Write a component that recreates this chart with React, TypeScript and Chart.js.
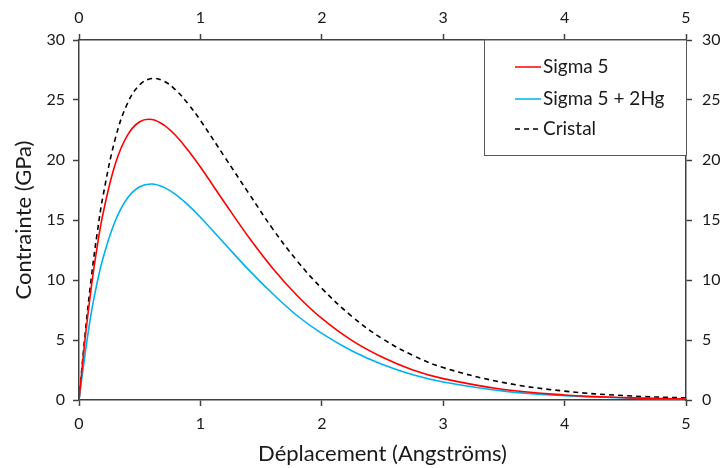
import React, { useEffect, useRef } from "react";
import { Chart, registerables } from "chart.js";

Chart.register(...registerables);

const displacement = [0, 0.05, 0.1, 0.15, 0.2, 0.3, 0.4, 0.5, 0.6, 0.7, 0.8, 0.9, 1.0, 1.2, 1.4, 1.6, 1.8, 2.0, 2.25, 2.5, 2.75, 3.0, 3.5, 4.0, 4.5, 5.0];
const sigma5 = [0, 5.08, 9.31, 12.8, 15.64, 19.71, 22.08, 23.19, 23.38, 22.91, 22.0, 20.79, 19.41, 16.44, 13.54, 10.92, 8.67, 6.8, 4.95, 3.56, 2.5, 1.78, 0.87, 0.42, 0.2, 0.09];
const sigma5Hg = [0, 3.81, 7.2, 9.8, 11.9, 14.96, 16.84, 17.77, 18.0, 17.72, 17.1, 16.24, 15.23, 13.02, 10.82, 8.81, 7.0, 5.55, 4.08, 2.95, 2.1, 1.5, 0.74, 0.36, 0.17, 0.08];
const cristal = [0, 5.46, 10.07, 13.92, 17.11, 21.82, 24.73, 26.27, 26.79, 26.57, 25.8, 24.67, 23.3, 20.25, 17.2, 14.2, 11.55, 9.3, 6.95, 5.1, 3.72, 2.7, 1.45, 0.74, 0.36, 0.17];
const seriesNames = ["Sigma 5", "Sigma 5 + 2Hg", "Cristal"];
const xTicks = [0, 1, 2, 3, 4, 5];
const yTicks = [0, 5, 10, 15, 20, 25, 30];
const xTitle = "Déplacement (Angströms)";
const yTitle = "Contrainte (GPa)";

const FONT = "Lato, 'Open Sans', sans-serif";
const AXIS_COLOR = "#404040";
const TEXT_COLOR = "#1a1a1a";

const legendBoxPlugin = {
  id: "legendBox",
  afterDraw(chart: any) {
    const { ctx, chartArea } = chart;
    const left = chartArea.left + 405;
    const top = chartArea.top;
    const right = chartArea.right;
    const bottom = chartArea.top + 115;
    ctx.save();
    ctx.fillStyle = "#ffffff";
    ctx.fillRect(left, top, right - left, bottom - top);
    ctx.strokeStyle = "#595959";
    ctx.lineWidth = 1;
    ctx.strokeRect(left + 0.5, top, right - left, bottom - top + 0.5);
    const rows = [27, 59, 89];
    chart.data.datasets.forEach((ds: any, i: number) => {
      const y = top + rows[i];
      ctx.beginPath();
      ctx.strokeStyle = ds.borderColor;
      ctx.lineWidth = 1.5;
      ctx.setLineDash(ds.borderDash || []);
      ctx.moveTo(left + 31, y);
      ctx.lineTo(left + 57, y);
      ctx.stroke();
      ctx.setLineDash([]);
      ctx.fillStyle = TEXT_COLOR;
      ctx.font = `19px ${FONT}`;
      ctx.textBaseline = "middle";
      ctx.textAlign = "left";
      ctx.fillText(ds.label, left + 59, y);
    });
    ctx.restore();
  },
};

const frameScale = (position: string, size: number) => ({
  type: "linear" as const,
  position,
  afterFit(scale: any) {
    if (position === "left" || position === "right") scale.width = size;
    else scale.height = size;
  },
  border: { display: true, color: AXIS_COLOR, width: 1.5 },
  grid: {
    drawOnChartArea: false,
    drawTicks: true,
    tickLength: 6,
    tickColor: AXIS_COLOR,
    tickWidth: 1.5,
  },
});

export default function App() {
  const canvasRef = useRef<HTMLCanvasElement>(null);

  useEffect(() => {
    if (!canvasRef.current) return;
    const mk = (vals: number[]) => displacement.map((x, i) => ({ x, y: vals[i] }));
    const common = { borderWidth: 1.6, pointRadius: 0, tension: 0.4, xAxisID: "x", yAxisID: "y" };
    const chart = new Chart(canvasRef.current, {
      type: "line",
      data: {
        datasets: [
          { ...common, label: seriesNames[0], data: mk(sigma5), borderColor: "#ff0000" },
          { ...common, label: seriesNames[1], data: mk(sigma5Hg), borderColor: "#00b0f0" },
          { ...common, label: seriesNames[2], data: mk(cristal), borderColor: "#000000", borderDash: [5, 4] },
        ],
      },
      options: {
        responsive: false,
        animation: false,
        devicePixelRatio: 1,
        layout: { padding: 0 },
        plugins: { legend: { display: false }, tooltip: { enabled: false } },
        scales: {
          x: {
            ...frameScale("bottom", 68),
            min: xTicks[0],
            max: xTicks[xTicks.length - 1],
            ticks: { stepSize: 1, padding: 8, color: TEXT_COLOR, font: { family: FONT, size: 16 } },
            title: { display: true, text: xTitle, color: TEXT_COLOR, font: { family: FONT, size: 22 }, padding: { top: 0, bottom: 1 } },
          },
          x2: {
            ...frameScale("top", 40),
            min: xTicks[0],
            max: xTicks[xTicks.length - 1],
            ticks: { stepSize: 1, padding: 7, color: TEXT_COLOR, font: { family: FONT, size: 16 } },
          },
          y: {
            ...frameScale("left", 79),
            min: yTicks[0],
            max: yTicks[yTicks.length - 1],
            ticks: { stepSize: 5, padding: 8, color: TEXT_COLOR, font: { family: FONT, size: 16 } },
            title: { display: true, text: yTitle, color: TEXT_COLOR, font: { family: FONT, size: 22 }, padding: { top: 11, bottom: 0 } },
          },
          y2: {
            ...frameScale("right", 39),
            min: yTicks[0],
            max: yTicks[yTicks.length - 1],
            ticks: { stepSize: 5, padding: 10, color: TEXT_COLOR, font: { family: FONT, size: 16 } },
          },
        },
      },
      plugins: [legendBoxPlugin],
    } as any);
    return () => chart.destroy();
  }, []);

  return (
    <div style={{ position: "absolute", left: 0, top: 0, width: 725, height: 468, background: "#fff" }}>
      <canvas ref={canvasRef} width={725} height={468} style={{ display: "block" }} />
    </div>
  );
}
